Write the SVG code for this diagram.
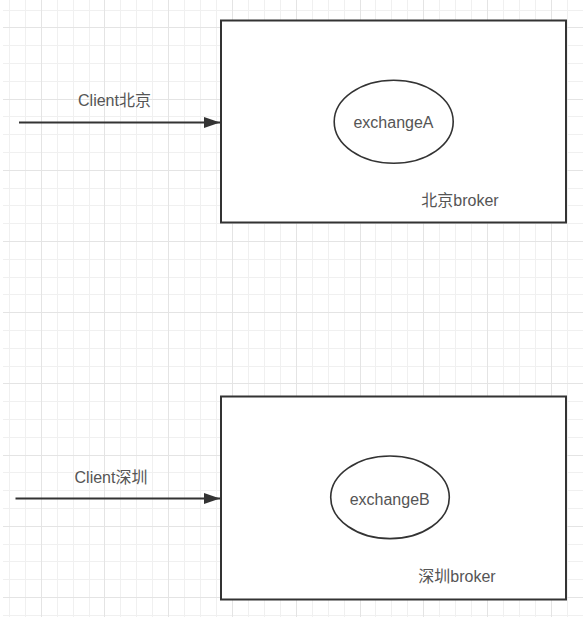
<svg xmlns="http://www.w3.org/2000/svg" width="583" height="619" viewBox="0 0 583 619">
<style>
.minor{stroke:#f0f0f0;stroke-width:1;fill:none}
.major{stroke:#e4e4e4;stroke-width:1;fill:none}
.box{fill:#ffffff;stroke:#333333;stroke-width:2}
.ell{fill:#ffffff;stroke:#333333;stroke-width:1.6}
.lbl{font-family:"Liberation Sans","Noto Sans CJK SC",sans-serif;font-size:16px;fill:#555555}
.conn{stroke:#333333;stroke-width:2;fill:none}
</style>
<defs>
<marker id="arr" markerWidth="16" markerHeight="12" refX="16" refY="6" orient="auto" markerUnits="userSpaceOnUse">
<path d="M0,0.5 L16,6 L0,11.5 Z" fill="#333333"/>
</marker>
</defs>
<rect x="0" y="0" width="583" height="619" fill="#ffffff"/>
<g id="grid">
<path class="minor" d="M9.5,0V617M25.5,0V617M57.5,0V617M73.5,0V617M89.5,0V617M120.5,0V617M136.5,0V617M152.5,0V617M184.5,0V617M200.5,0V617M216.5,0V617M248.5,0V617M264.5,0V617M280.5,0V617M312.5,0V617M328.5,0V617M344.5,0V617M375.5,0V617M391.5,0V617M407.5,0V617M439.5,0V617M455.5,0V617M471.5,0V617M503.5,0V617M519.5,0V617M535.5,0V617M567.5,0V617
M3,10.5H583M3,45.5H583M3,63.5H583M3,81.5H583M3,116.5H583M3,134.5H583M3,152.5H583M3,188.5H583M3,205.5H583M3,223.5H583M3,259.5H583M3,277.5H583M3,294.5H583M3,330.5H583M3,348.5H583M3,366.5H583M3,401.5H583M3,419.5H583M3,437.5H583M3,472.5H583M3,490.5H583M3,508.5H583M3,544.5H583M3,561.5H583M3,579.5H583M3,615.5H583"/>
<path class="major" d="M41.5,0V617M104.5,0V617M168.5,0V617M232.5,0V617M296.5,0V617M360.5,0V617M423.5,0V617M487.5,0V617M551.5,0V617
M3,27.5H583M3,99.5H583M3,170.5H583M3,241.5H583M3,312.5H583M3,383.5H583M3,455.5H583M3,526.5H583M3,597.5H583"/>
</g>
<g id="broker-beijing">
<rect class="box" x="221" y="20.5" width="345" height="202"/>
<text class="lbl" x="460" y="206" text-anchor="middle">北京broker</text>
</g>
<g id="exchangeA">
<ellipse class="ell" cx="393.7" cy="121.7" rx="59.5" ry="41.5"/>
<text class="lbl" x="393.5" y="128" text-anchor="middle">exchangeA</text>
</g>
<g id="broker-shenzhen">
<rect class="box" x="221" y="396.5" width="345" height="203"/>
<text class="lbl" x="457" y="582" text-anchor="middle">深圳broker</text>
</g>
<g id="exchangeB">
<ellipse class="ell" cx="390" cy="497.3" rx="59.3" ry="41.3"/>
<text class="lbl" x="389.7" y="505" text-anchor="middle">exchangeB</text>
</g>
<g id="connectors">
<line class="conn" x1="19" y1="122.5" x2="220" y2="122.5" marker-end="url(#arr)"/>
<text class="lbl" x="114.5" y="106" text-anchor="middle">Client北京</text>
<line class="conn" x1="15.5" y1="498.5" x2="220" y2="498.5" marker-end="url(#arr)"/>
<text class="lbl" x="111" y="482.5" text-anchor="middle">Client深圳</text>
</g>
</svg>
